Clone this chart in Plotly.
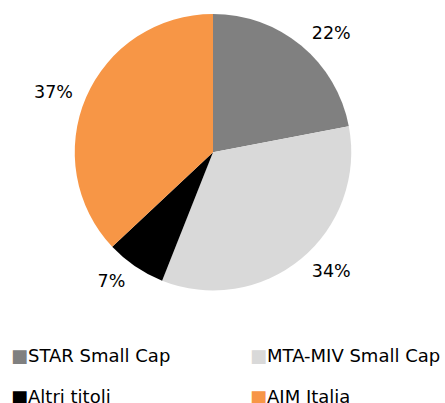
import plotly.graph_objects as go

labels = ["STAR Small Cap", "MTA-MIV Small Cap", "Altri titoli", "AIM Italia"]
values = [22, 34, 7, 37]
colors = ["#808080", "#d9d9d9", "#000000", "#f79646"]

W, H = 445, 403
cx, cy, r = 213, 149, 140
r_lab = 149  # radius of the invisible pie that carries the outside labels
FONT = "DejaVu Sans"


def domain(rad):
    return dict(x=[(cx - rad) / W, (cx + rad) / W],
                y=[max(0, 1 - (cy + rad) / H), min(1, 1 - (cy - rad) / H)])


fig = go.Figure()
# visible pie
fig.add_trace(go.Pie(
    labels=labels, values=values, sort=False, direction="clockwise", rotation=0,
    marker=dict(colors=colors, line=dict(width=0)),
    textinfo="none",
    domain=domain(r),
    hoverinfo="label+percent",
    showlegend=False,
))
# transparent pie, slightly larger, used only to place the percentage labels
fig.add_trace(go.Pie(
    labels=labels, values=values, sort=False, direction="clockwise", rotation=0,
    marker=dict(colors=["rgba(0,0,0,0)"] * len(values), line=dict(width=0)),
    texttemplate="%{percent:.0%}",
    textposition="outside",
    outsidetextfont=dict(family=FONT, size=17.5, color="#000000"),
    domain=domain(r_lab),
    hoverinfo="skip",
    showlegend=False,
))

# legend built as text annotations (two columns, two rows)
col_x = [9, 248]
row_y = [354.5, 396]
annotations = []
for i, (lab, col) in enumerate(zip(labels, colors)):
    annotations.append(dict(
        x=col_x[i % 2] / W, y=1 - row_y[i // 2] / H,
        xref="paper", yref="paper", xanchor="left", yanchor="middle",
        text=f"<span style='color:{col}'>■</span>{lab}",
        showarrow=False,
        font=dict(family=FONT, size=18, color="#000000"),
    ))

fig.update_layout(
    width=W, height=H,
    margin=dict(l=0, r=0, t=0, b=0),
    paper_bgcolor="white",
    plot_bgcolor="white",
    font=dict(family=FONT, size=18, color="#000000"),
    showlegend=False,
    annotations=annotations,
)

fig.write_html("out.html", config={"displayModeBar": False},
               post_script="document.body.style.margin='0px';")
